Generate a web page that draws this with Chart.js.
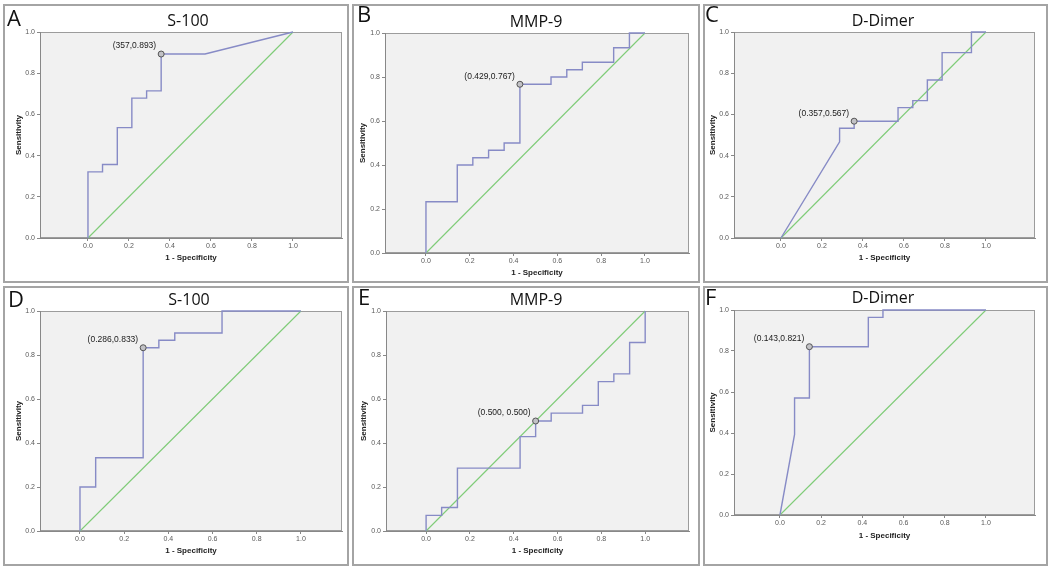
<!DOCTYPE html>
<html><head><meta charset="utf-8">
<script src="https://cdn.jsdelivr.net/npm/chart.js@4.4.1/dist/chart.umd.min.js"></script>
<style>
html,body{margin:0;padding:0;background:#fff}
body{width:1050px;height:568px;position:relative;overflow:hidden;font-family:"Liberation Sans",Arial,sans-serif}
.box{position:absolute;border:2px solid #a4a4a4;box-sizing:border-box}
canvas{position:absolute}
.letter{position:absolute;font-family:"Open Sans",sans-serif;font-size:22px;line-height:22px;color:#111;white-space:nowrap}
.title{position:absolute;font-family:"Open Sans",sans-serif;font-size:16px;line-height:16px;color:#111;white-space:nowrap;transform:translateX(-50%)}
</style></head><body>
<script>
// ---- data ----
const panelLetters = ["A", "B", "C", "D", "E", "F"];
const panelTitles = ["S-100", "MMP-9", "D-Dimer", "S-100", "MMP-9", "D-Dimer"];
const xTickValues = [0, 0.2, 0.4, 0.6, 0.8, 1.0];
const yTickValues = [0, 0.2, 0.4, 0.6, 0.8, 1.0];
const xAxisTitle = "1 - Specificity";
const yAxisTitle = "Sensitivity";
const refFpr = [0, 1];
const refTpr = [0, 1];

const aFpr = [0, 0, 0.071, 0.071, 0.143, 0.143, 0.214, 0.214, 0.286, 0.286, 0.357, 0.357, 0.571, 1.0];
const aTpr = [0, 0.321, 0.321, 0.357, 0.357, 0.536, 0.536, 0.679, 0.679, 0.714, 0.714, 0.893, 0.893, 1.0];

const bFpr = [0, 0, 0.143, 0.143, 0.214, 0.214, 0.286, 0.286, 0.357, 0.357, 0.429, 0.429, 0.571, 0.571, 0.643, 0.643, 0.714, 0.714, 0.857, 0.857, 0.929, 0.929, 1.0];
const bTpr = [0, 0.233, 0.233, 0.4, 0.4, 0.433, 0.433, 0.467, 0.467, 0.5, 0.5, 0.767, 0.767, 0.8, 0.8, 0.833, 0.833, 0.867, 0.867, 0.933, 0.933, 1.0, 1.0];

const cFpr = [0, 0.286, 0.286, 0.357, 0.357, 0.571, 0.571, 0.643, 0.643, 0.714, 0.714, 0.786, 0.786, 0.929, 0.929, 1.0];
const cTpr = [0, 0.467, 0.533, 0.533, 0.567, 0.567, 0.633, 0.633, 0.667, 0.667, 0.767, 0.767, 0.9, 0.9, 1.0, 1.0];

const dFpr = [0, 0, 0.071, 0.071, 0.286, 0.286, 0.357, 0.357, 0.429, 0.429, 0.643, 0.643, 1.0];
const dTpr = [0, 0.2, 0.2, 0.333, 0.333, 0.833, 0.833, 0.867, 0.867, 0.9, 0.9, 1.0, 1.0];

const eFpr = [0, 0, 0.071, 0.071, 0.143, 0.143, 0.429, 0.429, 0.5, 0.5, 0.571, 0.571, 0.714, 0.714, 0.786, 0.786, 0.857, 0.857, 0.929, 0.929, 1.0, 1.0];
const eTpr = [0, 0.071, 0.071, 0.107, 0.107, 0.286, 0.286, 0.429, 0.429, 0.5, 0.5, 0.536, 0.536, 0.571, 0.571, 0.679, 0.679, 0.714, 0.714, 0.857, 0.857, 1.0];

const fFpr = [0, 0.071, 0.071, 0.143, 0.143, 0.429, 0.429, 0.5, 0.5, 1.0];
const fTpr = [0, 0.393, 0.571, 0.571, 0.821, 0.821, 0.964, 0.964, 1.0, 1.0];

const cutFpr = [0.357, 0.429, 0.357, 0.286, 0.5, 0.143];
const cutTpr = [0.893, 0.767, 0.567, 0.833, 0.5, 0.821];
const cutText = ["(357,0.893)", "(0.429,0.767)", "(0.357,0.567)", "(0.286,0.833)", "(0.500, 0.500)", "(0.143,0.821)"];

const curveFpr = [aFpr, bFpr, cFpr, dFpr, eFpr, fFpr];
const curveTpr = [aTpr, bTpr, cTpr, dTpr, eTpr, fTpr];

// ---- layout (positions only) ----
const panelLayout = [
  {box:[3,4,349,283],   area:[40,32,342,238],  xr:[-0.234,1.239], yt:19,  xt:258, lt:[7,10],   tt:[188,20]},
  {box:[352,4,700,283], area:[385,33,689,253], xr:[-0.187,1.201], yt:363, xt:273, lt:[357,6],  tt:[536,21]},
  {box:[703,4,1048,283],area:[734,32,1035,238],xr:[-0.229,1.239], yt:713, xt:258, lt:[705,6],  tt:[883,20]},
  {box:[3,286,349,566], area:[40,311,342,531], xr:[-0.181,1.186], yt:19,  xt:551, lt:[8,291],  tt:[189,299]},
  {box:[352,286,700,566],area:[386,311,689,531],xr:[-0.183,1.2],  yt:364, xt:551, lt:[358,289], tt:[536,299]},
  {box:[703,286,1048,566],area:[734,310,1035,515],xr:[-0.223,1.238],yt:713, xt:536, lt:[705,289], tt:[883,297]}
];

const zip = (xs, ys) => xs.map((x, i) => ({x: x, y: ys[i]}));

const framePlugin = {
  id: 'frame',
  beforeDraw(chart) {
    const a = chart.chartArea, ctx = chart.ctx;
    ctx.save();
    ctx.fillStyle = '#f1f1f1';
    ctx.fillRect(a.left, a.top, a.right - a.left, a.bottom - a.top);
    ctx.strokeStyle = '#9c9c9c';
    ctx.lineWidth = 1;
    ctx.strokeRect(Math.round(a.left) + 0.5, Math.round(a.top) + 0.5, Math.round(a.right - a.left) - 1, Math.round(a.bottom - a.top) - 1);
    ctx.restore();
  },
  afterDatasetsDraw(chart, args, opts) {
    const meta = chart.getDatasetMeta(2);
    const pt = meta.data[0];
    if (!pt) return;
    const ctx = chart.ctx;
    ctx.save();
    ctx.font = '8.5px "Liberation Sans", Arial, sans-serif';
    ctx.fillStyle = '#1a1a1a';
    ctx.textAlign = 'right';
    ctx.textBaseline = 'middle';
    ctx.fillText(opts.text, pt.x - 5, pt.y - 8);
    ctx.restore();
  }
};

panelLayout.forEach((p, i) => {
  const [bx0, by0, bx1, by1] = p.box;
  const box = document.createElement('div');
  box.className = 'box';
  Object.assign(box.style, {left: bx0 + 'px', top: by0 + 'px', width: (bx1 - bx0) + 'px', height: (by1 - by0) + 'px'});
  document.body.appendChild(box);

  const cx0 = bx0 + 2, cy0 = by0 + 2, cw = bx1 - bx0 - 4, ch = by1 - by0 - 4;
  const cv = document.createElement('canvas');
  cv.width = cw; cv.height = ch;
  Object.assign(cv.style, {left: cx0 + 'px', top: cy0 + 'px', width: cw + 'px', height: ch + 'px'});
  document.body.appendChild(cv);

  const lt = document.createElement('div');
  lt.className = 'letter';
  lt.textContent = panelLetters[i];
  Object.assign(lt.style, {left: p.lt[0] + 'px', top: (p.lt[1] - 4) + 'px'});
  document.body.appendChild(lt);

  const tt = document.createElement('div');
  tt.className = 'title';
  tt.textContent = panelTitles[i];
  Object.assign(tt.style, {left: p.tt[0] + 'px', top: (p.tt[1] - 8.5) + 'px'});
  document.body.appendChild(tt);

  const [L, T, R, B] = p.area;
  const yScaleW = L - cx0;
  const xScaleH = (cy0 + ch) - B;
  const lh = 8 * 1.2;

  new Chart(cv, {
    type: 'scatter',
    data: {
      datasets: [
        {data: zip(refFpr, refTpr), showLine: true, borderColor: '#7fcc78', borderWidth: 1.1, pointRadius: 0, clip: 4, order: 3},
        {data: zip(curveFpr[i], curveTpr[i]), showLine: true, borderColor: '#878bc6', borderWidth: 1.4, pointRadius: 0, clip: 4, order: 2},
        {data: [{x: cutFpr[i], y: cutTpr[i]}], showLine: false, pointRadius: 3, pointBackgroundColor: '#c2c2c6', pointBorderColor: '#555', pointBorderWidth: 1, clip: 6, order: 1}
      ]
    },
    options: {
      responsive: false,
      animation: false,
      devicePixelRatio: 1,
      events: [],
      layout: {padding: {top: T - cy0, right: (cx0 + cw) - R, left: 0, bottom: 0}},
      plugins: {legend: {display: false}, tooltip: {enabled: false}, frame: {text: cutText[i]}},
      scales: {
        x: {
          type: 'linear', position: 'bottom', min: p.xr[0], max: p.xr[1],
          afterFit: s => { s.height = xScaleH; },
          afterBuildTicks: s => { s.ticks = xTickValues.map(v => ({value: v})); },
          ticks: {callback: v => Number(v).toFixed(1), font: {size: 7, family: '"Liberation Sans", Arial'}, color: '#5a5a5a', padding: 1, maxRotation: 0, autoSkip: false},
          grid: {display: true, drawOnChartArea: false, drawTicks: true, tickLength: 3, color: '#888'},
          border: {display: true, color: '#888', width: 1},
          title: {display: true, text: xAxisTitle, color: '#222', font: {size: 8, weight: 'bold', family: '"Liberation Sans", Arial'},
                  padding: {top: 0, bottom: (cy0 + ch) - p.xt - lh / 2}}
        },
        y: {
          type: 'linear', position: 'left', min: 0, max: 1,
          afterFit: s => { s.width = yScaleW; },
          afterBuildTicks: s => { s.ticks = yTickValues.map(v => ({value: v})); },
          ticks: {callback: v => Number(v).toFixed(1), font: {size: 7, family: '"Liberation Sans", Arial'}, color: '#5a5a5a', padding: 2, autoSkip: false},
          grid: {display: true, drawOnChartArea: false, drawTicks: true, tickLength: 3, color: '#888'},
          border: {display: true, color: '#888', width: 1},
          title: {display: true, text: yAxisTitle, color: '#222', font: {size: 8, weight: 'bold', family: '"Liberation Sans", Arial'},
                  padding: {top: p.yt - cx0 - lh / 2, bottom: 0}}
        }
      }
    },
    plugins: [framePlugin]
  });
});
</script>
</body></html>
